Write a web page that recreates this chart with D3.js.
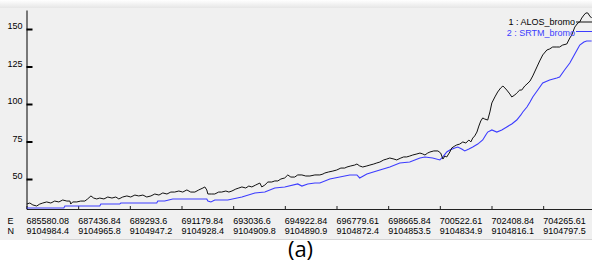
<!DOCTYPE html>
<html>
<head>
<meta charset="utf-8">
<script src="https://cdn.jsdelivr.net/npm/d3@7"></script>
<style>
  body { margin: 0; background: #fff; }
  svg { display: block; }
  .tick text { font-family: "Liberation Sans", Arial, sans-serif; font-size: 9px; fill: #000; }
  .lbl { font-family: "Liberation Sans", Arial, sans-serif; font-size: 9px; }
</style>
</head>
<body>
<div id="chart"></div>
<script>
// profile data: distance along profile (km) and elevation
var alosDist = [0.01,0.12,0.23,0.37,0.48,0.59,0.73,0.88,1.02,1.17,1.31,1.46,1.57,1.60,1.67,1.82,1.96,2.11,2.21,2.33,2.43,2.54,2.65,2.80,2.94,3.09,3.23,3.34,3.48,3.63,3.77,3.92,4.06,4.21,4.35,4.50,4.64,4.79,4.93,5.08,5.22,5.36,5.51,5.65,5.80,5.94,6.09,6.23,6.38,6.45,6.52,6.56,6.70,6.81,6.95,7.06,7.21,7.32,7.43,7.57,7.68,7.79,7.93,8.04,8.15,8.29,8.37,8.44,8.51,8.62,8.73,8.87,8.98,9.09,9.20,9.34,9.45,9.56,9.70,9.81,9.96,10.10,10.25,10.43,10.61,10.72,10.79,10.93,11.08,11.22,11.37,11.51,11.59,11.73,11.87,11.95,12.05,12.16,12.31,12.42,12.56,12.67,12.78,12.92,13.03,13.14,13.29,13.39,13.54,13.64,13.75,13.86,13.97,14.12,14.23,14.33,14.41,14.51,14.59,14.73,14.88,14.98,15.06,15.13,15.20,15.31,15.38,15.49,15.56,15.67,15.78,15.89,16.00,16.07,16.14,16.21,16.29,16.36,16.43,16.50,16.57,16.68,16.76,16.83,16.94,17.04,17.15,17.23,17.30,17.37,17.48,17.55,17.66,17.73,17.84,17.91,18.02,18.10,18.21,18.31,18.46,18.56,18.67,18.82,18.92,19.03,19.18,19.28,19.39,19.54,19.65,19.72,19.83,19.94,20.01,20.08,20.16,20.23,20.30,20.37,20.44];
var alosElev = [33.3,34.0,32.7,32.0,33.3,34.0,34.7,34.0,35.3,34.7,36.0,35.3,35.3,33.3,34.7,34.7,35.3,35.3,36.7,38.7,37.3,36.7,37.3,36.7,38.0,37.3,38.0,36.7,38.0,38.7,38.0,39.3,38.7,39.3,38.0,38.7,40.0,39.3,40.7,40.0,41.3,41.3,42.0,41.3,42.7,41.3,41.3,42.7,44.0,44.7,42.7,40.0,40.0,40.0,41.3,41.3,42.0,41.3,42.0,43.3,44.0,44.7,44.0,45.3,44.7,46.0,46.7,47.3,44.7,46.0,48.0,48.0,48.7,48.7,50.0,50.7,52.7,51.3,51.3,52.7,52.7,52.0,52.0,52.7,52.7,53.3,54.0,54.7,55.3,56.0,57.3,57.3,58.0,58.7,59.3,60.0,58.7,58.0,58.7,59.3,60.0,60.7,61.3,62.7,63.3,64.0,63.3,62.7,64.0,64.7,64.7,65.3,66.0,66.7,67.3,66.7,66.0,67.3,68.0,68.7,68.7,67.3,63.3,65.3,64.7,68.0,70.7,72.0,72.7,73.3,74.7,74.0,76.0,74.7,77.3,78.7,81.3,85.3,88.7,90.7,90.0,89.3,94.7,100.7,104.7,108.0,110.7,112.0,110.7,109.3,106.7,104.7,106.0,107.3,109.3,109.3,112.0,113.3,115.3,118.7,124.7,128.7,132.7,136.0,136.7,138.0,138.0,138.0,139.3,140.0,144.0,146.0,151.3,154.0,154.7,157.3,159.3,160.7,160.7,158.7,157.3];

var srtmDist = [0.01,1.35,1.39,2.65,2.69,3.37,3.41,4.71,4.75,5.00,5.29,6.52,6.56,6.67,6.81,7.28,7.79,8.26,8.62,8.98,9.34,9.81,9.96,10.17,10.43,10.61,10.97,11.33,11.69,11.95,12.05,12.31,12.78,13.14,13.50,13.86,14.23,14.41,14.69,14.95,15.06,15.20,15.31,15.49,15.60,15.74,15.85,16.00,16.14,16.32,16.50,16.61,16.68,16.83,17.01,17.19,17.37,17.55,17.73,17.88,17.95,18.10,18.21,18.31,18.49,18.67,18.92,19.18,19.28,19.46,19.65,19.83,20.01,20.16,20.26,20.44];
var srtmElev = [30.7,30.7,32.0,32.0,33.3,33.3,34.0,34.0,35.3,35.3,36.7,36.7,35.3,34.7,36.0,36.0,38.0,40.7,41.3,44.0,44.7,46.7,45.3,46.7,47.3,47.3,50.0,51.3,52.7,52.7,50.7,53.3,56.0,58.0,60.7,61.3,64.0,64.7,64.0,62.7,64.7,68.0,69.3,70.7,71.3,70.0,68.7,70.0,71.3,73.3,76.0,79.3,81.3,82.7,81.3,82.7,84.7,86.7,89.3,92.7,94.7,98.0,101.3,104.7,109.3,114.0,116.0,117.3,118.0,122.7,127.3,133.3,139.3,141.3,142.0,142.0];

// x tick labels (E / N coordinates along the profile)
var eLabels = ["685580.08","687436.84","689293.6","691179.84","693036.6","694922.84","696779.61","698665.84","700522.61","702408.84","704265.61"];
var nLabels = ["9104984.4","9104965.8","9104947.2","9104928.4","9104909.8","9104890.9","9104872.4","9104853.5","9104834.9","9104816.1","9104797.5"];
var tickStep = 1.8686; // km between labelled points
var yTicks = [50, 75, 100, 125, 150];

var seriesNames = ["1 : ALOS_bromo", "2 : SRTM_bromo"];
var seriesColors = ["#111111", "#3c3cff"];

var svgWidth = 592;
var svgHeight = 262;

var margin = { top: 10, right: 0, bottom: 53, left: 26.5 };
var width = svgWidth - margin.left - margin.right;
var height = svgHeight - margin.top - margin.bottom;

var svg = d3.select("#chart")
  .append("svg")
  .attr("width", svgWidth)
  .attr("height", svgHeight);

// window panel background
var defs = svg.append("defs");
var grad = defs.append("linearGradient")
  .attr("id", "topShade")
  .attr("x1", 0).attr("y1", 0).attr("x2", 0).attr("y2", 1);
grad.append("stop").attr("offset", "0%").attr("stop-color", "#ffffff");
grad.append("stop").attr("offset", "100%").attr("stop-color", "#e6e6e6");

svg.append("rect")
  .attr("x", 0).attr("y", 0)
  .attr("width", svgWidth).attr("height", 240)
  .attr("fill", "#f0f0f0");
svg.append("rect")
  .attr("x", 0).attr("y", 0)
  .attr("width", svgWidth).attr("height", 8)
  .attr("fill", "url(#topShade)");
svg.append("line")
  .attr("x1", 42).attr("x2", svgWidth)
  .attr("y1", 239.5).attr("y2", 239.5)
  .attr("stroke", "#d4d4d4");

var chartGroup = svg.append("g")
  .attr("transform", `translate(${margin.left}, ${margin.top})`);

// scales
var xScale = d3.scaleLinear()
  .domain([0, (svgWidth - margin.left) / 27.65])
  .range([0, width]);

var yScale = d3.scaleLinear()
  .domain([30, 162.67])
  .range([height, 0]);

// axes
var xTickVals = eLabels.map((d, i) => i * tickStep);

var bottomAxis = d3.axisBottom(xScale)
  .tickValues(xTickVals)
  .tickSizeInner(-3)
  .tickSizeOuter(0)
  .tickFormat("");

var leftAxis = d3.axisLeft(yScale)
  .tickValues(yTicks)
  .tickSizeInner(-6)
  .tickSizeOuter(0)
  .tickPadding(4);

var xAxisG = chartGroup.append("g")
  .attr("transform", `translate(0, ${height})`)
  .call(bottomAxis);
xAxisG.select(".domain").attr("stroke", "#222");
xAxisG.selectAll(".tick line").attr("stroke", "#222");

var yAxisG = chartGroup.append("g")
  .call(leftAxis);
yAxisG.select(".domain").attr("stroke", "#000");
yAxisG.selectAll(".tick line").attr("stroke", "#000").attr("stroke-width", 2);
yAxisG.selectAll(".tick text").attr("dy", "-0.05em");

// E / N label rows
var tickLabels = chartGroup.append("g").attr("class", "lbl");
tickLabels.selectAll("text.e")
  .data(eLabels)
  .enter()
  .append("text")
  .attr("class", "e")
  .attr("x", (d, i) => xScale(xTickVals[i]))
  .attr("y", height + 15)
  .text(d => d);
tickLabels.selectAll("text.n")
  .data(nLabels)
  .enter()
  .append("text")
  .attr("class", "n")
  .attr("x", (d, i) => xScale(xTickVals[i]))
  .attr("y", height + 25)
  .text(d => d);
tickLabels.append("text").attr("x", -19).attr("y", height + 15).text("E");
tickLabels.append("text").attr("x", -19).attr("y", height + 25).text("N");

// lines
var line = d3.line()
  .x(d => xScale(d[0]))
  .y(d => yScale(d[1]));

var alosData = d3.zip(alosDist, alosElev);
var srtmData = d3.zip(srtmDist, srtmElev);

chartGroup.append("path")
  .datum(srtmData)
  .attr("fill", "none")
  .attr("stroke", seriesColors[1])
  .attr("stroke-width", 1.1)
  .attr("d", line);

chartGroup.append("path")
  .datum(alosData)
  .attr("fill", "none")
  .attr("stroke", seriesColors[0])
  .attr("stroke-width", 1)
  .attr("d", line);

// legend (top right)
var legend = svg.append("g").attr("class", "lbl");
seriesNames.forEach(function(name, i) {
  legend.append("text")
    .attr("x", 575)
    .attr("y", 25 + i * 10.5)
    .attr("text-anchor", "end")
    .attr("fill", i === 0 ? "#000" : seriesColors[1])
    .text(name);
  legend.append("line")
    .attr("x1", 576).attr("x2", svgWidth)
    .attr("y1", 22 + i * 9.5).attr("y2", 22 + i * 9.5)
    .attr("stroke", seriesColors[i]);
});

// caption
svg.append("text")
  .attr("x", 300.5)
  .attr("y", 257)
  .attr("text-anchor", "middle")
  .style("font-family", "'Open Sans', sans-serif")
  .style("font-size", "22px")
  .attr("fill", "#000")
  .text("(a)");
</script>
</body>
</html>
